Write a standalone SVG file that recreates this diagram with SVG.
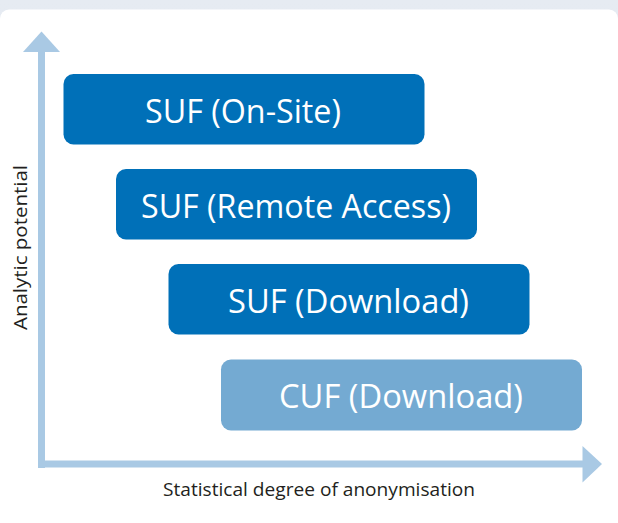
<svg xmlns="http://www.w3.org/2000/svg" width="618" height="523" viewBox="0 0 618 523">
<defs>
<linearGradient id="bg" x1="0" y1="0" x2="0" y2="1">
<stop offset="0" stop-color="#e6ebf2"/>
<stop offset="1" stop-color="#dde4ec"/>
</linearGradient>
<style>
.box{fill:#0070b8}
.box.light{fill:#74aad2}
.lbl{font-family:"Open Sans","Liberation Sans",sans-serif;font-size:32px;fill:#ffffff;text-anchor:middle}
.ax{fill:#a9c9e4}
.axl{font-family:"Open Sans","Liberation Sans",sans-serif;font-size:18px;fill:#231f20;text-anchor:middle}
</style>
</defs>
<rect x="0" y="0" width="618" height="523" fill="url(#bg)"/>
<rect x="0" y="9.5" width="618" height="530" rx="9" fill="#ffffff"/>
<g id="connectors">
<rect class="ax" x="38" y="50" width="7" height="418"/>
<polygon class="ax" points="41.5,31.5 60,52 23,52"/>
<rect class="ax" x="38" y="460.5" width="546" height="7"/>
<polygon class="ax" points="602,464 582.5,446 582.5,482.5"/>
</g>
<g id="axis-x-label"><text class="axl" x="319" y="496" textLength="312" lengthAdjust="spacingAndGlyphs">Statistical degree of anonymisation</text></g>
<g id="axis-y-label"><text class="axl" transform="translate(26.5,247.5) rotate(-90)" x="0" y="0" textLength="165" lengthAdjust="spacingAndGlyphs">Analytic potential</text></g>
<g id="node-suf-onsite">
<rect class="box" x="63.5" y="74" width="361" height="70.5" rx="10"/>
<text class="lbl" x="243" y="122.5" textLength="196" lengthAdjust="spacingAndGlyphs">SUF (On-Site)</text>
</g>
<g id="node-suf-remote">
<rect class="box" x="116" y="169" width="361" height="70.5" rx="10"/>
<text class="lbl" x="296" y="217.5" textLength="310" lengthAdjust="spacingAndGlyphs">SUF (Remote Access)</text>
</g>
<g id="node-suf-download">
<rect class="box" x="168.5" y="264" width="361" height="70.5" rx="10"/>
<text class="lbl" x="348.5" y="312.5" textLength="241" lengthAdjust="spacingAndGlyphs">SUF (Download)</text>
</g>
<g id="node-cuf-download">
<rect class="box light" x="221" y="359.5" width="361" height="71" rx="10"/>
<text class="lbl" x="401" y="408" textLength="244" lengthAdjust="spacingAndGlyphs">CUF (Download)</text>
</g>
</svg>
